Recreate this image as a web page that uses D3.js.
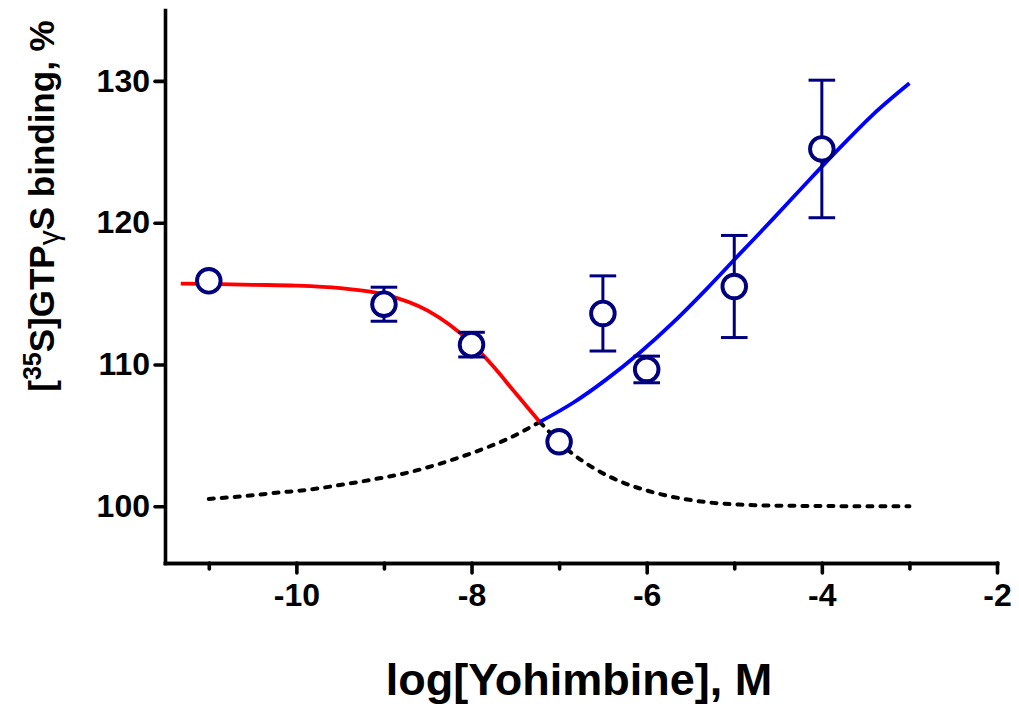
<!DOCTYPE html>
<html>
<head>
<meta charset="utf-8">
<script src="https://cdn.jsdelivr.net/npm/d3@7"></script>
<style>
  html, body { margin: 0; padding: 0; background: #fff; }
  svg { display: block; font-family: "Liberation Sans", Arial, Helvetica, sans-serif; font-weight: bold; }
</style>
</head>
<body>
<svg id="chart" width="1019" height="713"></svg>
<script>
// Measured binding at each yohimbine concentration (mean ± SEM)
const logDose = [-11, -9, -8, -7, -6.5, -6, -5, -4];
const binding = [115.9, 114.25, 111.4, 104.55, 113.6, 109.65, 115.5, 125.2];
const sem     = [0, 1.2, 0.87, 0, 2.65, 0.94, 3.6, 4.85];

// High-affinity (inhibitory) fitted component, solid part
const redX = [-11.32, -11, -10.5, -10, -9.5, -9, -8.5, -8.25, -8, -7.75, -7.5, -7.35, -7.22];
const redY = [115.7, 115.68, 115.62, 115.56, 115.38, 114.95, 113.8, 112.8, 111.5, 109.85, 108.0, 106.9, 105.95];

// Low-affinity (stimulatory) fitted component, solid part
const blueX = [-7.22, -6.84, -6.46, -6.08, -5.7, -5.32, -4.94, -4.56, -4.17, -3.79, -3.41, -3.0];
const blueY = [105.95, 107.3, 108.95, 110.83, 112.95, 115.3, 117.78, 120.25, 122.84, 125.31, 127.66, 129.83];

// Dashed continuations of each component beyond the crossover
const dashLeftX = [-11.0, -10.61, -10.23, -9.85, -9.47, -9.09, -8.71, -8.33, -7.94, -7.56, -7.22];
const dashLeftY = [100.52, 100.71, 100.95, 101.18, 101.53, 101.93, 102.4, 103.06, 103.88, 104.83, 105.95];
const dashRightX = [-7.22, -6.86, -6.61, -6.31, -5.97, -5.58, -5.24, -4.94, -4.56, -4.0, -3.5, -3.0];
const dashRightY = [105.95, 103.77, 102.71, 101.77, 101.06, 100.52, 100.24, 100.12, 100.05, 100.02, 100.0, 100.0];

const xMajorTicks = [-10, -8, -6, -4, -2];
const xMinorTicks = [-11, -9, -7, -5, -3];
const yTicks = [100, 110, 120, 130];

const svg = d3.select("#chart");

const x = d3.scaleLinear().domain([-11.5, -2]).range([165, 997]);
const y = d3.scaleLinear().domain([96, 135]).range([563, 10]);

const AXIS_W = 3.6;
const navy = "#00007f";

// ---- axes ----
const xAxisMinor = d3.axisBottom(x).tickValues(xMinorTicks).tickSize(6).tickSizeOuter(0).tickFormat("");
const xAxis = d3.axisBottom(x).tickValues(xMajorTicks).tickSize(10).tickSizeOuter(0).tickPadding(10)
  .tickFormat(d => String(d));
const yAxis = d3.axisLeft(y).tickValues(yTicks).tickSize(10).tickSizeOuter(0).tickPadding(5)
  .tickFormat(d => String(d));

function styleAxis(g) {
  g.select(".domain").attr("stroke", "#000").attr("stroke-width", AXIS_W).attr("stroke-linecap", "square");
  g.selectAll(".tick line").attr("stroke", "#000").attr("stroke-width", AXIS_W).attr("stroke-linecap", "round");
  g.selectAll(".tick text").attr("fill", "#000").style("font-size", "32px").style("font-weight", "bold")
    .style("font-family", "'Liberation Sans', Arial, sans-serif");
}

svg.append("g").attr("transform", `translate(0,${y.range()[0]})`).call(xAxisMinor).call(styleAxis);
svg.append("g").attr("transform", `translate(0,${y.range()[0]})`).call(xAxis).call(styleAxis);
svg.append("g").attr("transform", `translate(${x.range()[0]},0)`).call(yAxis).call(styleAxis);

// ---- axis titles ----
svg.append("text")
  .attr("x", 579).attr("y", 695)
  .attr("text-anchor", "middle")
  .style("font-size", "45px")
  .text("log[Yohimbine], M");

const yt = svg.append("text")
  .attr("transform", "translate(54,206) rotate(-90)")
  .attr("text-anchor", "middle")
  .style("font-size", "35px");
yt.append("tspan").text("[");
yt.append("tspan").attr("dy", -13).style("font-size", "25px").text("35");
yt.append("tspan").attr("dy", 13).text("S]GTP");
yt.append("tspan").attr("dy", 5).style("font-size", "30px").style("font-weight", "normal").text("γ");
yt.append("tspan").attr("dy", -5).text("S binding, %");

// ---- fitted curves ----
const line = d3.line().x(d => x(d[0])).y(d => y(d[1])).curve(d3.curveMonotoneX);
const pts = (xs, ys) => xs.map((v, i) => [v, ys[i]]);

const dashed = svg.append("g")
  .attr("fill", "none").attr("stroke", "#000").attr("stroke-width", 4)
  .attr("stroke-dasharray", "5,8").attr("stroke-linecap", "round");
dashed.append("path").attr("d", line(pts(dashLeftX, dashLeftY)));
dashed.append("path").attr("d", line(pts(dashRightX, dashRightY)));

svg.append("path").attr("d", line(pts(redX, redY)))
  .attr("fill", "none").attr("stroke", "#ff0000").attr("stroke-width", 3.8);
svg.append("path").attr("d", line(pts(blueX, blueY)))
  .attr("fill", "none").attr("stroke", "#0000ff").attr("stroke-width", 3.8);

// ---- data points with error bars ----
const data = logDose.map((d, i) => ({ x: d, y: binding[i], e: sem[i] }));
const capHalf = 13.3;

const eb = svg.append("g").attr("stroke", navy).attr("stroke-width", 3).attr("fill", "none");
data.filter(d => d.e > 0).forEach(d => {
  const cx = x(d.x), top = y(d.y + d.e), bot = y(d.y - d.e);
  eb.append("line").attr("x1", cx).attr("x2", cx).attr("y1", top).attr("y2", bot);
  eb.append("line").attr("x1", cx - capHalf).attr("x2", cx + capHalf).attr("y1", top).attr("y2", top);
  eb.append("line").attr("x1", cx - capHalf).attr("x2", cx + capHalf).attr("y1", bot).attr("y2", bot);
});

svg.append("g").selectAll("circle").data(data).join("circle")
  .attr("cx", d => x(d.x)).attr("cy", d => y(d.y)).attr("r", 11.8)
  .attr("fill", "#fff").attr("stroke", navy).attr("stroke-width", 3.9);
</script>
</body>
</html>
